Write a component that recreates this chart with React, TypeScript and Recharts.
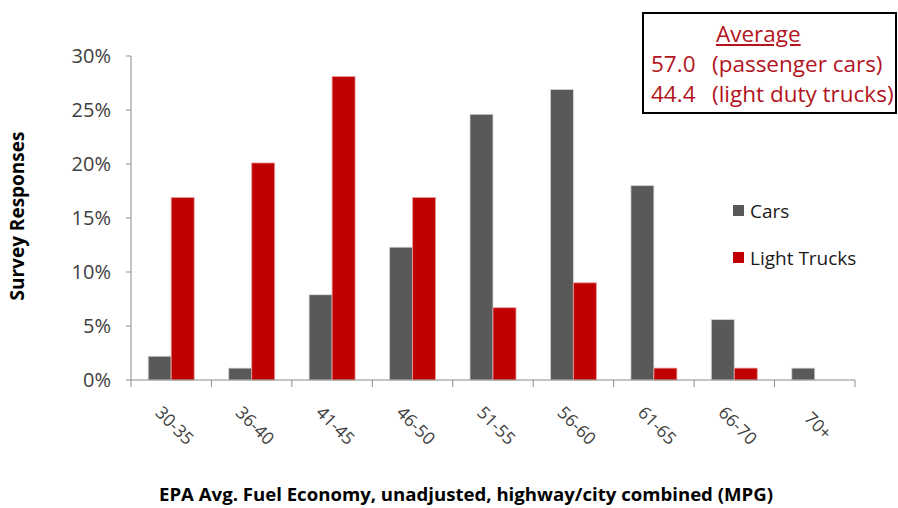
import React from "react";
import { BarChart, Bar, XAxis, YAxis } from "recharts";

// Data
const categories = ["30-35", "36-40", "41-45", "46-50", "51-55", "56-60", "61-65", "66-70", "70+"];
const cars = [2.2, 1.1, 7.9, 12.3, 24.6, 26.9, 18.0, 5.6, 1.1];
const lightTrucks = [16.9, 20.1, 28.1, 16.9, 6.7, 9.0, 1.1, 1.1, 0];
const yTicks = [0, 5, 10, 15, 20, 25, 30];

const averages = [
  { value: "57.0", label: "(passenger cars)" },
  { value: "44.4", label: "(light duty trucks)" },
];

const data = categories.map((name, i) => ({
  name,
  cars: cars[i],
  trucks: lightTrucks[i],
}));

const W = 898;
const H = 508;
const PLOT_LEFT = 131;
const PLOT_RIGHT = 855;
const STEP = (PLOT_RIGHT - PLOT_LEFT) / categories.length;
const FONT = "'Open Sans', sans-serif";
const CAR_COLOR = "#595959";
const TRUCK_COLOR = "#C00000";
const BOX_RED = "#B3141E";

const series = [
  { name: "Cars", color: CAR_COLOR },
  { name: "Light Trucks", color: TRUCK_COLOR },
];

// category labels rotated 45deg, with tick marks on the category borders
const XTick = ({ x, y, payload, index }: any) => {
  const last = index === categories.length - 1;
  return (
    <g>
      <line x1={x - STEP / 2} y1={y - 8} x2={x - STEP / 2} y2={y - 1} stroke="#8c8c8c" />
      {last && <line x1={x + STEP / 2} y1={y - 8} x2={x + STEP / 2} y2={y - 1} stroke="#8c8c8c" />}
      <text
        x={x + 4}
        y={y + 37}
        transform={`rotate(45, ${x + 4}, ${y + 37})`}
        textAnchor="middle"
        dominantBaseline="central"
        fontSize={17.5}
        fill="#404040"
        fontFamily={FONT}
      >
        {payload.value}
      </text>
    </g>
  );
};

export default function App() {
  return (
    <div style={{ position: "fixed", left: 0, top: 0, width: W, height: H, background: "#fff" }}>
      <BarChart
        width={W}
        height={H}
        data={data}
        margin={{ top: 56, right: W - PLOT_RIGHT, bottom: 68, left: 0 }}
        barCategoryGap="21.4%"
        barGap={0}
      >
        <XAxis
          dataKey="name"
          height={60}
          axisLine={{ stroke: "#8c8c8c" }}
          tickLine={false}
          tick={<XTick />}
          interval={0}
          label={{
            value: "EPA Avg. Fuel Economy, unadjusted, highway/city combined (MPG)",
            position: "insideBottom",
            offset: -61,
            style: { fontFamily: FONT, fontSize: 18.6, fontWeight: 700, fill: "#000" },
            dx: -27,
          }}
        />
        <YAxis
          width={PLOT_LEFT}
          domain={[0, 30]}
          ticks={yTicks}
          tickFormatter={(v: number) => `${v}%`}
          axisLine={{ stroke: "#8c8c8c" }}
          tickLine={{ stroke: "#8c8c8c" }}
          tickSize={5}
          tickMargin={15}
          tick={{ fontSize: 20, fill: "#404040", fontFamily: FONT }}
          label={{
            value: "Survey Responses",
            angle: -90,
            position: "insideLeft",
            offset: 17,
            dy: -2,
            style: { fontFamily: FONT, fontSize: 19, fontWeight: 700, fill: "#000", textAnchor: "middle" },
          }}
        />
        <Bar dataKey="cars" name="Cars" fill={CAR_COLOR} stroke="#d9d9d9" strokeWidth={0.8} isAnimationActive={false} />
        <Bar dataKey="trucks" name="Light Trucks" fill={TRUCK_COLOR} stroke="#e8a0a0" strokeWidth={0.8} isAnimationActive={false} />
      </BarChart>

      {/* legend */}
      <div style={{ position: "absolute", left: 733, top: 187, fontFamily: FONT, fontSize: 19, color: "#1a1a1a" }}>
        {series.map((item) => (
          <div key={item.name} style={{ display: "flex", alignItems: "center", height: 47 }}>
            <span style={{ width: 11, height: 11, background: item.color, marginRight: 6, display: "inline-block" }} />
            {item.name}
          </div>
        ))}
      </div>

      {/* averages box */}
      <div
        style={{
          position: "absolute",
          left: 642,
          top: 12,
          width: 255,
          height: 102,
          border: "2px solid #000",
          fontFamily: FONT,
          fontSize: 22.5,
          color: BOX_RED,
          boxSizing: "border-box",
          lineHeight: "30px",
          whiteSpace: "nowrap",
        }}
      >
        <div style={{ paddingLeft: 72, textDecoration: "underline", marginTop: 5 }}>Average</div>
        {averages.map((a) => (
          <div key={a.value} style={{ display: "flex", paddingLeft: 7 }}>
            <span style={{ width: 61 }}>{a.value}</span>
            <span>{a.label}</span>
          </div>
        ))}
      </div>
    </div>
  );
}
